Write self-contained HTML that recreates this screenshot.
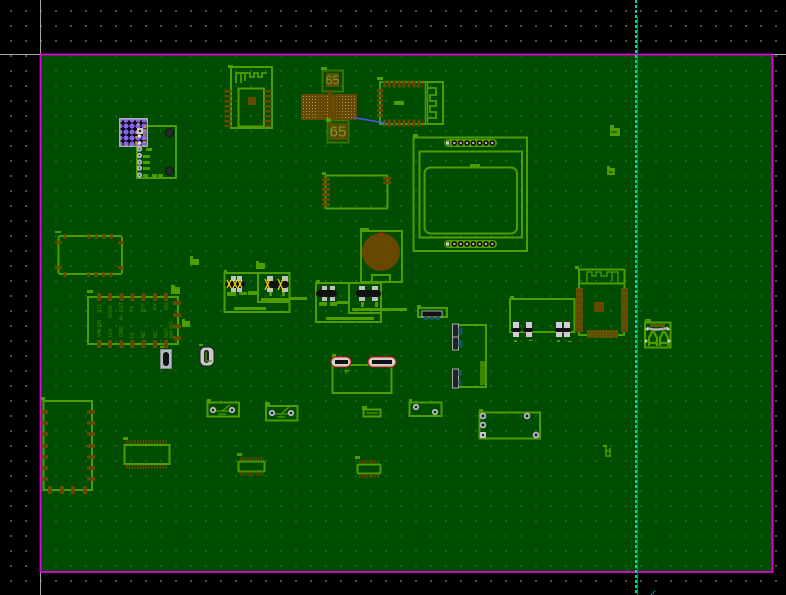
<!DOCTYPE html>
<html><head><meta charset="utf-8"><style>
html,body{margin:0;padding:0;background:#000;width:786px;height:595px;overflow:hidden}
svg{display:block}
text{font-family:"Liberation Sans",sans-serif}
</style></head><body>
<svg width="786" height="595" viewBox="0 0 786 595" xmlns="http://www.w3.org/2000/svg">
<defs>
<pattern id="gk" x="10" y="10" width="15" height="15" patternUnits="userSpaceOnUse"><rect width="2" height="2" fill="#505050"/></pattern>
<pattern id="gg" x="10" y="10" width="15" height="15" patternUnits="userSpaceOnUse"><rect width="2" height="2" fill="#146224"/></pattern>
<pattern id="bga" width="3" height="3" patternUnits="userSpaceOnUse"><rect width="3" height="3" fill="#664800"/><rect width="1" height="1" fill="#a09c70"/></pattern>
<pattern id="cross" width="6" height="6" patternUnits="userSpaceOnUse"><rect width="6" height="6" fill="#8a62e6"/><path d="M3 .5v5M.5 3h5" stroke="#0a0a20" stroke-width="2"/></pattern>
</defs>
<rect width="786" height="595" fill="#000"/>
<rect width="786" height="595" fill="url(#gk)"/>
<rect x="40" y="55" width="733" height="517" fill="#004c00"/>
<rect x="40" y="55" width="733" height="517" fill="url(#gg)"/>
<path d="M0 54.500H40M773 54.500H786M40.500 0V55M40.500 572V595" stroke="#a8a8a8" stroke-width="1"/>

<g fill="none" stroke="#4f9c00" stroke-width="2">
<rect x="137" y="126" width="39" height="52"/>
<rect x="231" y="67" width="41" height="61"/>
<rect x="238.500" y="88.500" width="25.500" height="38"/>
<path d="M236 83V73H241V83V73H245V81V73H250V77H254V73H258V77H262V73H267" stroke-width="1.800"/>
<rect x="322.500" y="70.500" width="20.500" height="21" stroke="#3a7400"/>
<rect x="327.500" y="120.500" width="21" height="22" stroke="#3a7400"/>
<rect x="380" y="82" width="63" height="42"/>
<path d="M425.500 82V124M427.500 82V124" stroke-width="1.500"/>
<path d="M427 88H436V95H430V101H436V106H430V112H436V118H427" stroke-width="1.800"/>
<rect x="325.500" y="175.500" width="62" height="33" rx="1"/>
<rect x="413.500" y="137.500" width="113.500" height="113.500"/>
<rect x="419.500" y="151.500" width="102.500" height="86"/>
<rect x="424.500" y="167.500" width="92.500" height="66" rx="6"/>
<rect x="58.500" y="236" width="63.500" height="38" rx="2"/>
<rect x="88" y="297" width="90" height="47"/>
<rect x="361" y="231" width="41" height="51"/>
<path d="M372 282V275H390V282"/>
<rect x="224.500" y="273" width="65" height="39"/>
<path d="M258 273V302H289"/>
<rect x="316" y="283" width="65" height="39"/>
<path d="M349 283V313H381"/>
<rect x="332.500" y="365" width="59" height="28"/>
<rect x="418" y="308" width="29" height="9"/>
<path d="M456 325H486V387H456"/>
<rect x="510" y="299" width="64.500" height="33"/>
<path d="M579 288V269.500H624.500V288M579 283.500H624.500M579 330V335H624V330"/>
<path d="M587 283V272H592V276H596V272H601V276H607V272H618V282M612 272V281" stroke-width="1.300"/>
<rect x="43.500" y="401" width="48.500" height="89"/>
<rect x="124.500" y="445" width="45" height="19"/>
<rect x="238.500" y="461.500" width="26" height="10" rx="1"/>
<rect x="357.500" y="464.500" width="23" height="9" rx="1"/>
<rect x="207.500" y="402.500" width="31.500" height="14"/>
<rect x="266" y="406" width="31.500" height="14.500"/>
<rect x="363.500" y="409.500" width="17" height="7"/>
<rect x="409.500" y="402.500" width="32" height="13.500"/>
<rect x="479.500" y="412.500" width="60.500" height="26"/>
<rect x="645" y="322.500" width="25.500" height="25"/>
<path d="M213 411H232M222 411L230 405M218 414H226" stroke-width="1.200"/>
<path d="M272 414H291M281 414L289 407M277 417H285" stroke-width="1.200"/>
<path d="M366 413H378" stroke-width="1.200"/>
</g>

<g fill="none" stroke="#664800">
<path d="M228 90V127M268 90V127" stroke-width="7" stroke-dasharray="2.500 2.500"/>
<path d="M383 84H423" stroke-width="7" stroke-dasharray="3 1.900"/>
<path d="M383 123H423" stroke-width="7" stroke-dasharray="3 1.900"/>
<path d="M377 90.500H383M377 95.500H383M377 100.500H383M377 105.500H383M377 110.500H383M377 115.500H383" stroke-width="3"/>
<path d="M322 179.500H330M322 184.500H330M322 189.500H330M322 194.500H330M322 199.500H330M322 204.500H330M383 178.500H391M383 182.500H391" stroke-width="3"/>
<path d="M65 234V239M89 234V239M96.500 234V239M104 234V239M111.500 234V239M65 272V277M88.500 272V277M96 272V277M103.500 272V277M111 272V277M55 242.500H62M55 267.500H62M118 242.500H124M118 267.500H124" stroke-width="3"/>
<path d="M99 293V301M110 293V301M121.500 293V301M132.500 293V301M143.500 293V301M155 293V301M166 293V301M99 340V348M110 340V348M121.500 340V348M132.500 340V348M143.500 340V348M155 340V348M166 340V348" stroke-width="4"/>
<path d="M173 303H181M173 315H181M173 326.500H181M173 338H181" stroke-width="4"/>
<path d="M40 412H48M40 423H48M40 434H48M40 446H48M40 457H48M40 468H48M40 479H48M87 412H95M87 423H95M87 434H95M87 446H95M87 457H95M87 468H95M87 479H95" stroke-width="3.500"/>
<path d="M50 486V494M62 486V494M73 486V494M85 486V494" stroke-width="4"/>
<path d="M126 442H168M126 467H168" stroke-width="4" stroke-dasharray="1.400 1.400"/>
<path d="M240 459H264M240 473.500H264M359 462H380M359 476H380" stroke-width="4" stroke-dasharray="1.300 1.300"/>
<path d="M579.500 288V332M624.500 288V332" stroke-width="7"/>
<path d="M587 334H618" stroke-width="8"/>
</g>
<path d="M579.500 288V332M624.500 288V332" stroke="#4d7a00" stroke-width="7" stroke-dasharray="1 4.500" fill="none" opacity=".5"/>
<path d="M587 334H618" stroke="#4d7a00" stroke-width="8" stroke-dasharray="1 2.200" fill="none" opacity=".6"/>
<rect x="248" y="97" width="8" height="8" fill="#664800"/>
<rect x="594" y="302" width="10" height="10" fill="#664800"/>

<rect x="301" y="94" width="56" height="26" fill="url(#bga)"/>
<rect x="316" y="94" width="11" height="26" fill="#664800" opacity=".6"/>
<rect x="331" y="94" width="10" height="26" fill="#664800" opacity=".6"/>
<rect x="328" y="90" width="4" height="34" fill="#664800"/>
<rect x="326" y="73" width="13" height="14" fill="#5c4e00"/>
<rect x="329" y="123" width="18" height="17" fill="#5c4e00"/>
<text x="332.500" y="84.500" font-size="12.500" fill="#7d9438" text-anchor="middle">65</text>
<text x="338" y="136.500" font-size="15" fill="#7d9438" text-anchor="middle">65</text>
<path d="M353 117.500L385 123" stroke="#4a58e8" stroke-width="1.500"/>

<circle cx="381" cy="252" r="19" fill="#664800"/>
<circle cx="381" cy="234" r="1.500" fill="#e81010"/>

<g fill="#4f9c00">
<rect x="228" y="65" width="5" height="3"/><rect x="321" y="67" width="6" height="3"/><rect x="326" y="118" width="5" height="4"/>
<rect x="377" y="77" width="6" height="3"/><rect x="394" y="101" width="10" height="4"/><rect x="322" y="172" width="4" height="3"/>
<rect x="413" y="134" width="5" height="3"/><rect x="470" y="164" width="10" height="3"/><rect x="55" y="231" width="6" height="2"/>
<rect x="87" y="290" width="6" height="3"/><rect x="224" y="270" width="3" height="3"/><rect x="316" y="280" width="4" height="3"/>
<rect x="360" y="228" width="9" height="3"/><rect x="332" y="354" width="4" height="11"/><rect x="417" y="305" width="4" height="3"/>
<rect x="510" y="296" width="4" height="3"/><rect x="575" y="266" width="4" height="3"/><rect x="645" y="319" width="6" height="3"/>
<rect x="41" y="397" width="4" height="3"/><rect x="123" y="437" width="5" height="3"/><rect x="237" y="453" width="5" height="3"/>
<rect x="355" y="456" width="5" height="3"/><rect x="207" y="399" width="4" height="3"/><rect x="265" y="402" width="5" height="4"/>
<rect x="362" y="406" width="5" height="4"/><rect x="409" y="399" width="3" height="4"/><rect x="479" y="409" width="4" height="3"/>
<rect x="199" y="344" width="4" height="2"/><rect x="160" y="346" width="4" height="2"/>
<path d="M190 256h3v3h6v6h-9zM171 285h4v2h5v7h-9zM182 319h3v2h5v6h-8zM256 261h3v2h6v6h-9zM610 125h4v3h6v8h-10zM607 166h3v2h5v7h-8z"/>
<rect x="227" y="292" width="9" height="4"/><rect x="239" y="292" width="8" height="3"/><rect x="248" y="291" width="9" height="4"/>
<rect x="234" y="307" width="32" height="3"/><rect x="261" y="298" width="28" height="4"/><rect x="290" y="297" width="17" height="3"/>
<rect x="319" y="302" width="8" height="4"/><rect x="330" y="302" width="7" height="4"/><rect x="337" y="301" width="11" height="3"/>
<rect x="326" y="317" width="48" height="3"/><rect x="352" y="308" width="55" height="3"/>
<rect x="269" y="291" width="3" height="5"/><rect x="282" y="291" width="3" height="5"/><rect x="361" y="302" width="3" height="5"/><rect x="375" y="302" width="3" height="5"/>
<rect x="146" y="148" width="6" height="3"/><rect x="143" y="155" width="7" height="3"/><rect x="143" y="161" width="7" height="3"/><rect x="143" y="167" width="7" height="3"/><rect x="143" y="174" width="5" height="3"/><rect x="152" y="174" width="5" height="3"/><rect x="158" y="174" width="5" height="3"/>
<rect x="346" y="370" width="4" height="1"/><rect x="480" y="361" width="5" height="24" opacity=".75"/>
<rect x="514" y="340" width="3" height="2"/><rect x="529" y="340" width="4" height="1"/><rect x="557" y="340" width="3" height="2"/><rect x="568" y="341" width="4" height="1"/>
<rect x="654" y="324" width="9" height="3"/>
<rect x="444" y="139" width="53" height="8" rx="4"/><rect x="444" y="240" width="53" height="8" rx="4"/>
</g>
<path d="M611 132h6M609 172h4" stroke="#2a5a00" stroke-width="1.500"/>

<g fill="#b5b0b8" stroke="#0a0a0a" stroke-width="1.500">
<rect x="445.500" y="141" width="4" height="4" fill="#ccc" stroke-width=".5"/><circle cx="454.300" cy="143" r="2"/><circle cx="460.700" cy="143" r="2"/><circle cx="467" cy="143" r="2"/><circle cx="473.300" cy="143" r="2"/><circle cx="479.700" cy="143" r="2"/><circle cx="486" cy="143" r="2"/><circle cx="492.300" cy="143" r="2"/>
<rect x="445.500" y="242" width="4" height="4" fill="#ccc" stroke-width=".5"/><circle cx="454.300" cy="244" r="2"/><circle cx="460.700" cy="244" r="2"/><circle cx="467" cy="244" r="2"/><circle cx="473.300" cy="244" r="2"/><circle cx="479.700" cy="244" r="2"/><circle cx="486" cy="244" r="2"/><circle cx="492.300" cy="244" r="2"/>
</g>

<g fill="#222" stroke="#b8b8c8" stroke-width="1.800">
<circle cx="139.500" cy="149" r="1.700"/><circle cx="139.500" cy="155.500" r="1.700"/><circle cx="139.500" cy="162" r="1.700"/><circle cx="139.500" cy="168" r="1.700"/><circle cx="139.500" cy="175" r="1.700"/>
<circle cx="213" cy="410" r="2.200"/><circle cx="232" cy="410" r="2.200"/><circle cx="272" cy="413" r="2.200"/><circle cx="291" cy="413" r="2.200"/>
<circle cx="416" cy="407" r="2.200"/><circle cx="435" cy="412" r="2.200"/>
<circle cx="483" cy="416" r="2.400"/><circle cx="527" cy="416" r="2.400"/><circle cx="483" cy="425" r="2.400"/><circle cx="536" cy="435" r="2.400"/>
</g>
<rect x="480" y="432" width="6" height="6" fill="#c4c4c4"/><rect x="482" y="434" width="2" height="2" fill="#222"/>
<circle cx="169.500" cy="133" r="4" fill="#2a2a2a" stroke="#111"/><circle cx="169.500" cy="171" r="4" fill="#2a2a2a" stroke="#111"/>

<rect x="119" y="118" width="29" height="29" fill="#b0b0b0"/>
<rect x="120.500" y="119.500" width="26" height="26" fill="url(#cross)"/>
<rect x="137" y="128" width="6" height="6" fill="#c8c8c8"/><rect x="139" y="130" width="2" height="2" fill="#222"/>
<circle cx="139.500" cy="136" r="1.800" fill="#ddd"/><circle cx="139.500" cy="143" r="1.800" fill="#ddd"/>
<path d="M137 124h3M144 127h2M143 130h3M136 131v3M136 136v2M143 135h3M136 141v4M143 142h3" stroke="#f0b000" stroke-width="1.200"/>

<g>
<rect x="231" y="276" width="5" height="16" fill="#c0c0c0"/><rect x="237" y="276" width="5" height="16" fill="#c0c0c0"/>
<rect x="225" y="281" width="20" height="7" rx="3.500" fill="#111"/>
<path d="M227 280l4 8M231 280l-4 8M233 280l4 8M237 280l-4 8M238 280l4 8M242 280l-4 8" stroke="#f2e000" stroke-width="1.200"/>
<rect x="267" y="276" width="6" height="16" fill="#c0c0c0"/><rect x="282" y="276" width="6" height="16" fill="#c0c0c0"/>
<rect x="265" y="281" width="24" height="7" rx="3.500" fill="#111"/>
<path d="M265 279l5 11M270 279l-5 11M278 279l5 11M283 279l-5 11" stroke="#f2e000" stroke-width="1.200"/>
<rect x="322" y="286" width="5" height="15" fill="#c0c0c0"/><rect x="330" y="286" width="5" height="15" fill="#c0c0c0"/>
<rect x="316" y="290" width="21" height="7" rx="3.500" fill="#111"/>
<rect x="359" y="286" width="6" height="15" fill="#c0c0c0"/><rect x="372" y="286" width="6" height="15" fill="#c0c0c0"/>
<rect x="356" y="290" width="25" height="7" rx="3.500" fill="#111"/>
<rect x="513" y="322" width="6" height="15" fill="#d8c8dc"/><rect x="526" y="322" width="6" height="15" fill="#d8c8dc"/>
<rect x="511" y="328" width="10" height="4" rx="2" fill="#111"/><rect x="523" y="328" width="10" height="4" rx="2" fill="#111"/>
<rect x="556" y="322" width="6" height="15" fill="#d8c8dc"/><rect x="564" y="322" width="6" height="15" fill="#d8c8dc"/>
<rect x="555" y="328" width="16" height="4" rx="2" fill="#111"/>
<path d="M372 358v8M392 358v8M337 358v8M346 358v8" stroke="#a81010" stroke-width="3"/>
<rect x="368" y="357" width="28" height="10" rx="5" fill="#d0d0d0" stroke="#c81010"/>
<rect x="372" y="360" width="20" height="4" fill="#111"/>
<rect x="331" y="357" width="20" height="10" rx="5" fill="#d0d0d0" stroke="#c81010"/>
<rect x="335" y="360" width="13" height="4" fill="#111"/>
<path d="M346 369v5M344 371h5" stroke="#4f9c00"/>
<rect x="160.500" y="349.500" width="11" height="19" fill="#b8b8c8" stroke="#888"/>
<rect x="163" y="352" width="6" height="14" rx="3" fill="#111"/>
<rect x="200" y="347" width="14" height="19" rx="5" fill="#c8c8c8" stroke="#222"/>
<rect x="204" y="350" width="5" height="13" rx="2.500" fill="#222"/>
<path d="M206 352V361H212" stroke="#4f9c00" stroke-width="1.200" fill="none"/>
<rect x="422" y="311" width="20" height="6" fill="#111" stroke="#aaa"/>
<rect x="424" y="317" width="4" height="3" fill="#0c5a68"/><rect x="430" y="317" width="4" height="3" fill="#0c5a68"/><rect x="436" y="317" width="4" height="3" fill="#0c5a68"/>
<rect x="452.500" y="324" width="6" height="13" fill="#222" stroke="#aaa"/><rect x="452.500" y="337" width="6" height="13" fill="#222" stroke="#aaa"/><rect x="452.500" y="369" width="6" height="19" fill="#222" stroke="#aaa"/>
<rect x="458.500" y="328" width="4" height="7" fill="#0c5a68"/><rect x="458.500" y="340" width="4" height="7" fill="#0c5a68"/><rect x="458.500" y="371" width="3" height="5" fill="#0c5a68"/><rect x="458.500" y="380" width="3" height="5" fill="#0c5a68"/>
</g>

<g fill="none" stroke="#4f9c00" stroke-width="2.200">
<path d="M649 346V338L652 332H654L657 338V346M660 346V338L663 332H665L668 338V346"/>
<path d="M650 343H656M661 343H667"/>
</g>
<rect x="650" y="324" width="15" height="3" fill="#5c5a00"/>
<path d="M647 328Q655 331 668 328" stroke="#b0b0b0" stroke-width="2.500" fill="none"/>
<circle cx="647" cy="329" r="1.500" fill="#ccc"/><circle cx="668" cy="329" r="1.500" fill="#ccc"/><circle cx="646" cy="341" r="1.500" fill="#ccc"/><circle cx="669" cy="341" r="1.500" fill="#ccc"/>

<path d="M606 446V456H611M605 451H611M610 448V456" stroke="#4f9c00" stroke-width="1.400" fill="none"/>
<rect x="603" y="445" width="4" height="2" fill="#4f9c00"/>

<g font-size="5" fill="#418c00">
<text transform="translate(101,313) rotate(-90)">SCL</text>
<text transform="translate(112,318) rotate(-90)">5V0A</text>
<text transform="translate(123,320) rotate(-90)">A+ OUT</text>
<text transform="translate(134,312) rotate(-90)">TX</text>
<text transform="translate(145,312) rotate(-90)">BTT</text>
<text transform="translate(157,310) rotate(-90)">RX</text>
<text transform="translate(168,310) rotate(-90)">NO</text>
<text transform="translate(101,337) rotate(-90)">VIN EN</text>
<text transform="translate(112,337) rotate(-90)">LV0</text>
<text transform="translate(123,337) rotate(-90)">GND</text>
<text transform="translate(134,339) rotate(-90)">TX</text>
<text transform="translate(145,338) rotate(-90)">NC</text>
<text transform="translate(157,338) rotate(-90)">NC</text>
<text transform="translate(168,338) rotate(-90)">ANT</text>
<text transform="translate(173,338) rotate(-90)">MA SIG</text>
</g>

<rect x="40.500" y="54.500" width="732" height="517.500" fill="none" stroke="#e000d8" stroke-width="1.800"/>
<path d="M637.500 17V595" stroke="#0a8a0a" stroke-width="1.300"/>
<path d="M636 0V595" stroke="#00d8b8" stroke-width="2" stroke-dasharray="3 2"/>
<path d="M651 595L655 591" stroke="#00d8d8" stroke-width="1" stroke-dasharray="1.500 .8"/>
</svg>
</body></html>
